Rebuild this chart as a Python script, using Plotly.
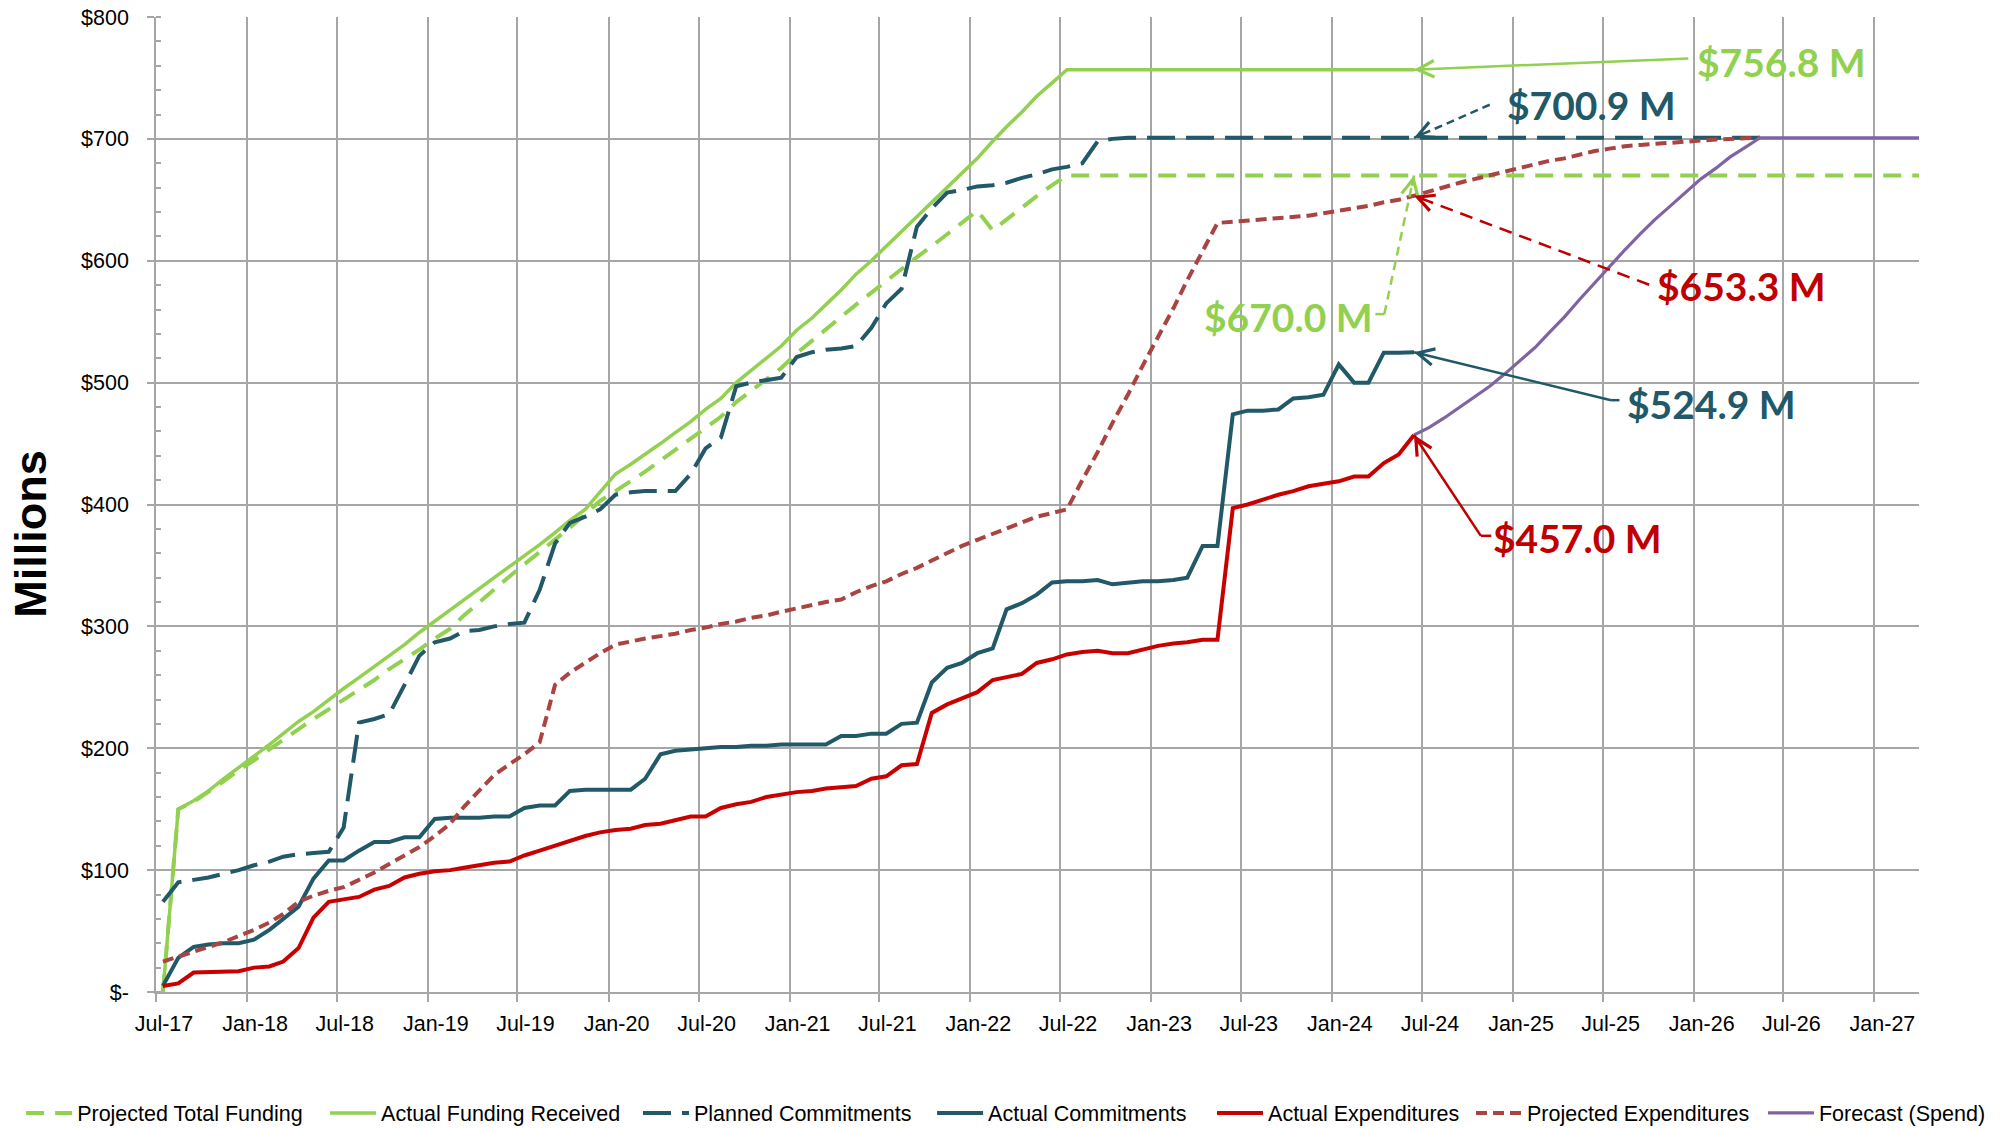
import pandas as pd
import plotly.graph_objects as go

# ---------------- data (US$ millions, monthly, mid-month points from Jul-17) ----------------
START = "2017-07-01"
END = "2027-04-01"
months = list(pd.date_range("2017-07-01", periods=107, freq="MS") + pd.Timedelta(days=14))

projected_total_funding = [
    0, 150, 156, 164, 173, 182, 190, 199, 207, 215,
    224, 232, 240, 248, 256, 265, 273, 281, 290, 298,
    309, 320, 330, 341, 351, 361, 371, 381, 392, 403,
    411, 419, 427, 436, 445, 454, 463, 472, 484, 493,
    502, 512, 524, 534, 544, 554, 564, 574, 584, 593,
    603, 612, 622, 632, 641, 625, 634, 643, 653, 662,
    670.0]
projected_total_funding_final = 670.0

actual_funding_received = [
    0, 150, 157, 165, 175, 184, 193, 203, 212, 222,
    230, 240, 249, 258, 267, 276, 285, 295, 304, 313,
    322, 331, 340, 349, 358, 367, 377, 387, 396, 410,
    425, 433, 441, 450, 459, 468, 478, 487, 500, 510,
    520, 530, 543, 553, 564, 576, 589, 600, 612, 624,
    636, 648, 660, 672, 684, 698, 710, 722, 735, 746,
    756.8, 756.8, 756.8, 756.8, 756.8, 756.8, 756.8, 756.8, 756.8, 756.8,
    756.8, 756.8, 756.8, 756.8, 756.8, 756.8, 756.8, 756.8, 756.8, 756.8,
    756.8, 756.8, 756.8, 756.8]

planned_commitments = [
    74, 90, 92, 94, 97, 100, 104, 107, 111, 113,
    114, 115, 135, 221, 224, 228, 252, 276, 287, 290,
    296, 297, 300, 302, 303, 330, 368, 385, 390, 396,
    408, 410, 411, 411, 411, 425, 446, 455, 497, 500,
    502, 504, 521, 525, 527, 528, 530, 545, 565, 577,
    628, 643, 656, 658, 661, 662, 664, 668, 671, 675,
    677, 680, 698, 700, 700.9]
planned_commitments_final = 700.9   # held flat until the forecast reaches it

actual_commitments = [
    5, 28, 37, 39, 40, 40, 43, 51, 60, 70,
    93, 108, 108, 116, 123, 123, 127, 127, 142, 143,
    143, 143, 144, 144, 151, 153, 153, 165, 166, 166,
    166, 166, 175, 195, 198, 199, 200, 201, 201, 202,
    202, 203, 203, 203, 203, 210, 210, 212, 212, 220,
    221, 254, 266, 270, 278, 282, 314, 319, 326, 336,
    337, 337, 338, 334.5, 336, 337, 337, 338, 340, 366,
    366, 474, 477, 477, 478, 487, 488, 490, 515, 500,
    500, 524.6, 524.6, 524.9]

actual_expenditures = [
    5, 7, 16, 16.5, 17, 17, 20, 21, 25, 36,
    61, 74, 76, 78, 84, 87, 94, 97, 99, 100,
    102, 104, 106, 107, 112, 116, 120, 124, 128, 131,
    133, 134, 137, 138, 141, 144, 144, 151, 154, 156,
    160, 162, 164, 165, 167, 168, 169, 175, 177, 186,
    187, 229, 236, 241, 246, 256, 258, 261, 270, 273,
    277, 279, 280, 278, 278, 281, 284, 286, 287, 289,
    289, 397, 400, 404, 408, 411, 415, 417, 419, 423,
    423, 434, 441, 457.0]

projected_expenditures = [
    25, 29, 33, 37, 41, 46, 51, 57, 64, 74,
    79, 83, 86, 92, 98, 105, 112, 119, 128, 138,
    152, 165, 178, 187, 195, 205, 252, 262, 270, 278,
    285, 288, 290, 292, 294, 297, 299, 302, 304, 307,
    309, 312, 315, 318, 320, 322, 328, 333, 337, 343,
    348, 354, 360, 366, 371, 376, 381, 386, 390, 393,
    396, 420, 443, 467, 490, 514, 537, 561, 584, 608,
    631, 632, 633, 634, 635, 636, 637, 639, 641, 643,
    645, 648, 650, 653.3, 657, 660, 664, 667, 670, 673,
    676, 679, 682, 684, 687, 690, 692, 694, 695, 696,
    697, 698, 699, 699.5, 700, 700.5, 700.9]

forecast_spend = [  # starts at the last actual expenditure (Jun-24)
    457, 463, 471, 480, 488, 497, 507, 518, 529, 541,
    554, 568, 582, 595, 609, 622, 634, 645, 656, 667,
    676, 685, 693, 700.9]
forecast_spend_final = 700.9
FORECAST_START = 83

y_tickvals = [0, 100, 200, 300, 400, 500, 600, 700, 800]
y_ticktext = ["$-", "$100", "$200", "$300", "$400", "$500", "$600", "$700", "$800"]

series_names = ["Projected Total Funding", "Actual Funding Received", "Planned Commitments",
                "Actual Commitments", "Actual Expenditures", "Projected Expenditures",
                "Forecast (Spend)"]

# ---------------- styles ----------------
GREEN = "#92D050"
TEAL = "#215968"
RED = "#C80000"
BROWN = "#A94442"
PURPLE = "#8064A2"
GRID = "#A6A6A6"
SANS = "Liberation Sans, Arial, sans-serif"
LABEL_FONT = "Lato, Carlito, Calibri, Open Sans, sans-serif"
TICK_SIZE = 21.5
# legend entry anchors (paper x), one legend per entry to reproduce the spacing
legend_x = [-0.0765, 0.0959, 0.2734, 0.4402, 0.5990, 0.7459, 0.9115]

fig = go.Figure()

def add(i, x, y, color, width, dash=None):
    lg = "legend" if i == 0 else f"legend{i + 1}"
    fig.add_trace(go.Scatter(
        x=x, y=y, name=series_names[i], mode="lines", legend=lg,
        line=dict(color=color, width=width, dash=dash),
        hoverinfo="skip"))

n = len(projected_total_funding)
add(0, months[:n] + [pd.Timestamp(END)],
    projected_total_funding + [projected_total_funding_final], GREEN, 4, "18px,11px")
add(1, months[:len(actual_funding_received)], actual_funding_received, GREEN, 3.5)
n = len(planned_commitments)
add(2, months[:n] + [months[FORECAST_START + len(forecast_spend) - 1]],
    planned_commitments + [planned_commitments_final], TEAL, 4, "28px,11px")
add(3, months[:len(actual_commitments)], actual_commitments, TEAL, 4)
add(4, months[:len(actual_expenditures)], actual_expenditures, RED, 4)
add(5, months[:len(projected_expenditures)], projected_expenditures, BROWN, 4, "11px,6px")
add(6, months[FORECAST_START:FORECAST_START + len(forecast_spend)] + [pd.Timestamp(END)],
    forecast_spend + [forecast_spend_final], PURPLE, 3.2)

# ---------------- callouts ----------------
tip_date = months[FORECAST_START]
callouts = [
    # text, value at tip, colour, text pos (date, value), path points, dash, head offset
    ("$756.8 M", actual_funding_received[-1], GREEN, ("2026-01-04", 763.3),
     [("2025-12-21", 766.0)], None, (12, -0.5)),
    ("$700.9 M", planned_commitments_final, TEAL, ("2024-12-16", 728.0),
     [("2024-11-15", 728.0)], "8px,5px", (11, -4.8)),
    ("$670.0 M", projected_total_funding_final, GREEN, ("2023-04-13", 553.7),
     [("2024-03-29", 556.2), ("2024-04-16", 556.2)], "9px,6px", (-2.5, 11.7)),
    ("$653.3 M", projected_expenditures[FORECAST_START], "#C00000", ("2025-10-14", 579.6),
     [("2025-10-03", 580.3)], "13px,8px", (11.2, 4.3)),
    ("$524.9 M", actual_commitments[-1], TEAL, ("2025-08-16", 482.8),
     [("2025-08-04", 485.6), ("2025-07-18", 485.6)], None, (11.7, 2.8)),
    ("$457.0 M", actual_expenditures[-1], "#C00000", ("2024-11-18", 372.4),
     [("2024-11-18", 374.3), ("2024-10-28", 374.3)], None, (6.1, 10.3)),
]

annotations = []
shapes = []
for text, val, color, (tx, ty), path, dash, (hx, hy) in callouts:
    pts = path + [(tip_date, val)]
    for (x0, y0), (x1, y1) in zip(pts[:-1], pts[1:]):
        shapes.append(dict(type="line", xref="x", yref="y", x0=x0, y0=y0, x1=x1, y1=y1,
                           line=dict(color=color, width=2.5, dash=dash), layer="above"))
    annotations.append(dict(x=tip_date, y=val, xref="x", yref="y", text="",
                            showarrow=True, ax=hx, ay=hy, arrowhead=5, arrowsize=1.3,
                            arrowwidth=2.5, arrowcolor=color, standoff=0))
    annotations.append(dict(x=tx, y=ty, xref="x", yref="y", text=f"<b>{text}</b>",
                            showarrow=False, xanchor="left", yanchor="middle",
                            font=dict(family=LABEL_FONT, size=39, color=color)))

annotations.append(dict(x=-0.0715, y=0.47, xref="paper", yref="paper", text="<b>Millions</b>",
                        showarrow=False, textangle=-90, xanchor="center", yanchor="middle",
                        height=46,
                        font=dict(family=SANS, size=45, color="black")))

legend_common = dict(orientation="h", y=-0.124, xanchor="left", yanchor="middle",
                     itemwidth=46, font=dict(family=SANS, size=TICK_SIZE, color="black"),
                     bgcolor="rgba(0,0,0,0)")
legends = {}
for i, lx in enumerate(legend_x):
    key = "legend" if i == 0 else f"legend{i + 1}"
    legends[key] = dict(legend_common, x=lx)

fig.update_layout(
    width=2011, height=1128,
    margin=dict(l=156, r=92, t=17, b=136, autoexpand=False),
    paper_bgcolor="white", plot_bgcolor="white",
    showlegend=True,
    annotations=annotations,
    shapes=shapes,
    xaxis=dict(type="date", range=[START, END], tick0=START, dtick="M6",
               tickformat="%b-%y", showgrid=True, gridcolor=GRID, gridwidth=1.5,
               ticks="outside", ticklen=8, tickcolor=GRID, tickwidth=1.5,
               showline=True, linecolor=GRID, linewidth=1.5, zeroline=False,
               automargin=False, ticklabelshift=8, ticklabelstandoff=3,
               ticklabeloverflow="allow",
               tickfont=dict(family=SANS, size=TICK_SIZE, color="black")),
    yaxis=dict(range=[0, 800], tickvals=y_tickvals, ticktext=y_ticktext,
               showgrid=True, gridcolor=GRID, gridwidth=1.5,
               ticks="outside", ticklen=7, tickcolor=GRID, tickwidth=1.5,
               showline=True, linecolor=GRID, linewidth=1.5, zeroline=False,
               automargin=False, ticklabeloverflow="allow",
               minor=dict(dtick=20, ticks="inside", ticklen=5, tickcolor=GRID, showgrid=False),
               ticklabelstandoff=14,
               tickfont=dict(family=SANS, size=TICK_SIZE, color="black")),
    **legends,
)

# remove the browser's default page margin so the figure fills the window exactly
fig.write_html("out.html", config={"displayModeBar": False},
               post_script="document.body.style.margin='0';")
